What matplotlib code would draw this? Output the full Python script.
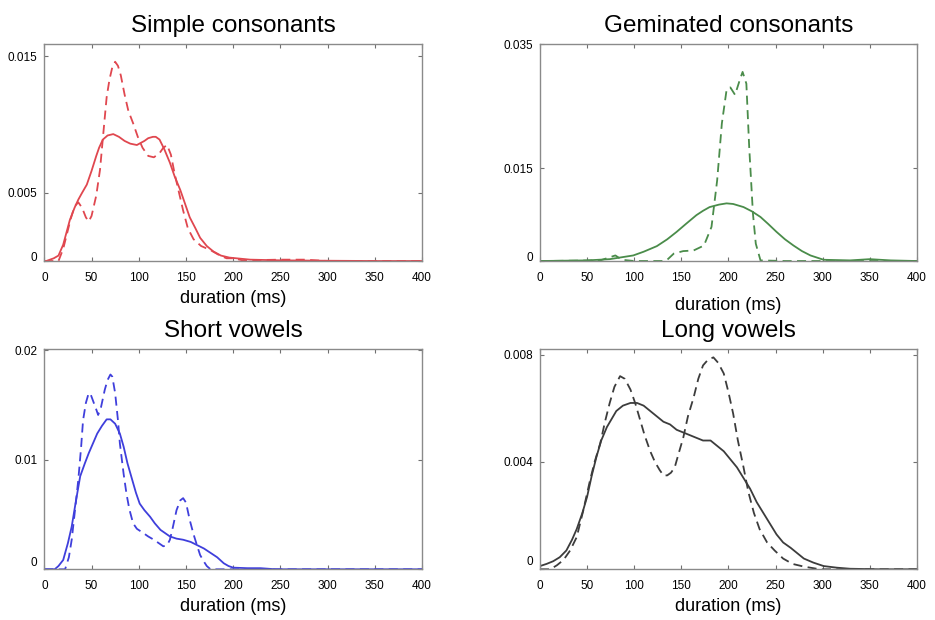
import matplotlib
matplotlib.use("Agg")
import matplotlib.pyplot as plt
from matplotlib.transforms import ScaledTranslation

plt.rcParams["font.family"] = ["Liberation Sans", "DejaVu Sans"]

# 横轴刻度
x_ticks = [0, 50, 100, 150, 200, 250, 300, 350, 400]

# Simple consonants
sc_solid_x = [0, 2, 10, 15, 20, 27, 32, 36, 40, 45, 50, 55, 58, 62, 67, 73, 79, 85, 91, 98, 106, 110, 115, 118,
              122, 127, 133, 138, 144, 149, 154, 160, 165, 172, 179, 187, 196, 218, 250, 300, 350, 400]
sc_solid_y = [0, 0, 0.0002, 0.0004, 0.0012, 0.003, 0.0039, 0.0045, 0.005, 0.0056, 0.0066, 0.0077, 0.0083, 0.0089,
              0.0092, 0.0093, 0.0091, 0.0088, 0.0086, 0.0085, 0.0088, 0.009, 0.0091, 0.0091, 0.0089, 0.0082, 0.0072,
              0.0062, 0.0052, 0.0042, 0.0032, 0.0024, 0.0017, 0.0011, 0.0007, 0.0004, 0.00025, 0.0001, 0.00005,
              0.00002, 0, 0]
sc_dash_x = [0, 15, 20, 24, 28, 32, 36, 40, 44, 47, 50, 55, 59, 62, 66, 69, 72, 75, 78, 81, 85, 89, 94, 99, 104,
             110, 116, 122, 126, 130, 134, 138, 142, 147, 152, 158, 166, 176, 186, 193, 200, 210, 250, 275, 300, 400]
sc_dash_y = [0, 0, 0.0009, 0.002, 0.0031, 0.004, 0.0043, 0.0039, 0.0032, 0.0029, 0.0033, 0.0048, 0.0067, 0.009,
             0.012, 0.0133, 0.0142, 0.0146, 0.0143, 0.0136, 0.0122, 0.011, 0.0101, 0.0091, 0.0083, 0.0077, 0.0076,
             0.0079, 0.0083, 0.0085, 0.0078, 0.0064, 0.0052, 0.0037, 0.0024, 0.0016, 0.0011, 0.0008, 0.0004, 0.0002,
             0.0002, 0.00005, 0.0001, 0.0001, 0, 0]

# Geminated consonants
gc_solid_x = [0, 50, 74, 99, 110, 124, 135, 145, 155, 166, 173, 180, 190, 198, 205, 216, 225, 234, 242, 251, 260,
              269, 278, 287, 301, 329, 350, 372, 400]
gc_solid_y = [0, 0.0001, 0.0003, 0.0009, 0.0015, 0.0024, 0.0035, 0.0047, 0.006, 0.0074, 0.0081, 0.0087, 0.0091,
              0.0093, 0.0092, 0.0087, 0.008, 0.0071, 0.006, 0.0047, 0.0035, 0.0025, 0.0016, 0.0009, 0.0002, 0.0001,
              0.0003, 0.0001, 0]
gc_dash_x = [0, 64, 74, 80, 87, 100, 130, 135, 142, 152, 163, 174, 182, 188, 193, 198, 202, 207, 212, 215, 219, 222,
             226, 229, 234, 260, 400]
gc_dash_y = [0, 0.0001, 0.0006, 0.0009, 0.0002, 0, 0, 0.0002, 0.0012, 0.0016, 0.0017, 0.0025, 0.0055, 0.013, 0.0222,
             0.0276, 0.028, 0.0268, 0.0292, 0.0305, 0.0286, 0.0184, 0.0076, 0.0028, 0.0001, 0, 0]

# Short vowels
sv_solid_x = [0, 11, 15, 20, 25, 29, 33, 38, 43, 47, 52, 56, 61, 66, 70, 75, 80, 84, 88, 93, 97, 101, 106, 112,
              117, 123, 128, 133, 140, 147, 155, 162, 169, 176, 183, 190, 195, 200, 215, 229, 245, 300, 400]
sv_solid_y = [0, 0, 0.0003, 0.00085, 0.0024, 0.0039, 0.006, 0.0085, 0.0097, 0.0106, 0.0116, 0.0124, 0.0131, 0.0137,
              0.0137, 0.0133, 0.0124, 0.0112, 0.0097, 0.0082, 0.007, 0.006, 0.0054, 0.0048, 0.0042, 0.0036, 0.0033,
              0.003, 0.0028, 0.0027, 0.0025, 0.0022, 0.0019, 0.0015, 0.0011, 0.00055, 0.0003, 0.00015, 0.0001,
              0.0001, 0, 0, 0]
sv_dash_x = [0, 22, 26, 29, 33, 36, 39, 41, 44, 47, 49, 52, 55, 57, 60, 64, 67, 70, 72, 75, 78, 80, 84, 87, 90, 94,
             98, 105, 110, 116, 121, 126, 130, 133, 136, 140, 144, 147, 150, 154, 158, 162, 165, 169, 172, 176, 200,
             400]
sv_dash_y = [0, 0, 0.0011, 0.0027, 0.0058, 0.0082, 0.0112, 0.0136, 0.0152, 0.0161, 0.016, 0.0153, 0.0146, 0.0141,
             0.0148, 0.0164, 0.0173, 0.0178, 0.0176, 0.0161, 0.0136, 0.0115, 0.0087, 0.0069, 0.0055, 0.0042, 0.0037,
             0.0033, 0.003, 0.0027, 0.0024, 0.0021, 0.0022, 0.0027, 0.0038, 0.0054, 0.0063, 0.0065, 0.0061, 0.0045,
             0.0032, 0.0021, 0.0013, 0.0007, 0.0003, 0, 0, 0]

# Long vowels
lv_solid_x = [0, 7, 14, 21, 28, 34, 39, 45, 50, 55, 60, 65, 71, 76, 81, 88, 96, 103, 110, 117, 124, 131, 138, 145,
              152, 159, 166, 173, 181, 188, 195, 202, 209, 216, 223, 230, 237, 244, 251, 258, 266, 273, 280, 290,
              301, 315, 329, 360, 400]
lv_solid_y = [0.00012, 0.0002, 0.0003, 0.00045, 0.0007, 0.0011, 0.0015, 0.0021, 0.0027, 0.0035, 0.0042, 0.0048,
              0.0053, 0.0056, 0.0059, 0.0061, 0.0062, 0.0062, 0.0061, 0.0059, 0.0057, 0.0055, 0.0054, 0.0052, 0.0051,
              0.005, 0.0049, 0.0048, 0.0048, 0.0046, 0.0044, 0.0041, 0.0038, 0.0034, 0.003, 0.0025, 0.0021, 0.0017,
              0.0013, 0.001, 0.0008, 0.0006, 0.0004, 0.00025, 0.00012, 0.00006, 0.00002, 0, 0]
lv_dash_x = [0, 11, 18, 25, 32, 39, 46, 53, 58, 64, 69, 74, 79, 85, 90, 96, 101, 106, 111, 117, 122, 127, 131, 135,
             139, 143, 147, 152, 157, 163, 168, 173, 178, 184, 189, 195, 200, 205, 210, 216, 221, 227, 233, 241, 249,
             258, 268, 280, 297, 400]
lv_dash_y = [0, 0, 0.00015, 0.00035, 0.0007, 0.0012, 0.0022, 0.0033, 0.004, 0.0047, 0.0055, 0.0062, 0.0068, 0.0072,
             0.0071, 0.0067, 0.0062, 0.0056, 0.005, 0.0044, 0.004, 0.0037, 0.0035, 0.0035, 0.0036, 0.0038, 0.0043,
             0.0049, 0.0057, 0.0064, 0.0071, 0.0076, 0.0078, 0.0079, 0.0077, 0.0073, 0.0066, 0.0058, 0.0048, 0.0038,
             0.0029, 0.0021, 0.0015, 0.001, 0.0007, 0.0004, 0.0002, 0.0001, 0, 0]

panels = [
    # 标题, 颜色, 实线, 虚线, y上限, y刻度, 刻度标签, 位置, 0标签上移(px), xlabel间距
    ("Simple consonants", "#e0474f", (sc_solid_x, sc_solid_y), (sc_dash_x, sc_dash_y), 0.0159,
     [0, 0.005, 0.015], ["0", "0.005", "0.015"], [0.0474, 0.579, 0.404, 0.350], 5, 4),
    ("Geminated consonants", "#4a8c4a", (gc_solid_x, gc_solid_y), (gc_dash_x, gc_dash_y), 0.035,
     [0, 0.015, 0.035], ["0", "0.015", "0.035"], [0.5775, 0.579, 0.4032, 0.350], 5, 9),
    ("Short vowels", "#3f3fdc", (sv_solid_x, sv_solid_y), (sv_dash_x, sv_dash_y), 0.0201,
     [0, 0.01, 0.02], ["0", "0.01", "0.02"], [0.0474, 0.0818, 0.404, 0.3548], 8, 4),
    ("Long vowels", "#3c3c3c", (lv_solid_x, lv_solid_y), (lv_dash_x, lv_dash_y), 0.0082,
     [0, 0.004, 0.008], ["0", "0.004", "0.008"], [0.5775, 0.0818, 0.4032, 0.3548], 9, 4),
]

fig = plt.figure(figsize=(9.35, 6.2), dpi=100)

for title, color, solid, dash, ytop, yticks, ylabels, pos, lift, lpad in panels:
    ax = fig.add_axes(pos)
    ax.plot(solid[0], solid[1], color=color, linewidth=1.3, solid_joinstyle="round")
    ax.plot(dash[0], dash[1], color=color, linewidth=1.3, linestyle=(0, (5, 3)))
    ax.set_xlim(0, 400)
    ax.set_ylim(0, ytop)
    ax.set_xticks(x_ticks)
    ax.set_yticks(yticks)
    ax.set_yticklabels(ylabels)
    ax.tick_params(direction="in", length=3, width=0.8, color="#707070", labelsize=8.5,
                   top=True, right=True)
    ax.tick_params(axis="x", pad=8)
    ax.tick_params(axis="y", pad=5)
    for sp in ax.spines.values():
        sp.set_color("#8a8a8a")
        sp.set_linewidth(1.0)
    ax.set_title(title, fontsize=17.5, pad=9)
    ax.set_xlabel("duration (ms)", fontsize=13, labelpad=lpad)
    # 0 标签稍微上移
    lbl = ax.get_yticklabels()[0]
    lbl.set_transform(lbl.get_transform() + ScaledTranslation(0, lift / 100, fig.dpi_scale_trans))

fig.savefig("out.png", dpi=100)
